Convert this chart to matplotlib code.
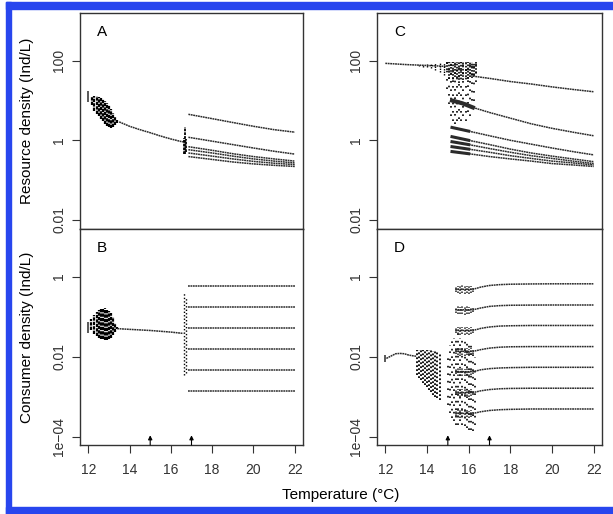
import numpy as np
import matplotlib
matplotlib.use("Agg")
import matplotlib.pyplot as plt
from matplotlib.patches import Rectangle

plt.rcParams['font.family'] = ['Liberation Sans', 'DejaVu Sans']

# ---- data (temperature in deg C, densities in Ind/L) ----
# Panel A: resource, low productivity
a_start = [12.0, 9.3, 17.6]                      # T, low, high
a_blob_t = [12.2, 12.3, 12.4, 12.5, 12.6, 12.7, 12.8, 12.9, 13.0, 13.1, 13.2, 13.3, 13.4, 13.5]
a_blob_hi = [12.5, 13.0, 12.8, 12.3, 11.8, 11.0, 10.0, 8.8, 7.5, 6.0, 4.8, 3.9, 3.3, 2.9]
a_blob_lo = [7.5, 5.5, 4.6, 4.0, 3.5, 3.0, 2.6, 2.3, 2.1, 2.0, 2.1, 2.4, 2.7, 2.9]
a_line_t = [13.5, 14.0, 14.5, 15.0, 15.5, 16.0, 16.5, 16.7]
a_line_v = [2.9, 2.25, 1.85, 1.55, 1.28, 1.08, 0.93, 0.9]
a_jump_t = [16.62, 16.68, 16.74]
a_jump_lo = [0.45, 0.46, 0.5]
a_jump_hi = [1.15, 2.1, 1.1]
a_br_t = [16.85, 18, 19, 20, 21, 22]
a_branches = [
    [4.5, 3.5, 2.8, 2.25, 1.85, 1.6],
    [1.19, 0.95, 0.78, 0.64, 0.53, 0.45],
    [0.69, 0.56, 0.46, 0.39, 0.34, 0.30],
    [0.58, 0.48, 0.40, 0.34, 0.30, 0.27],
    [0.48, 0.40, 0.34, 0.295, 0.265, 0.245],
    [0.39, 0.33, 0.285, 0.255, 0.235, 0.22],
]

# Panel B: consumer, low productivity
b_start = [12.0, 0.0385, 0.075]
b_blob_t = [12.15, 12.3, 12.4, 12.5, 12.6, 12.7, 12.8, 12.9, 13.0, 13.1, 13.2, 13.3, 13.4]
b_blob_hi = [0.085, 0.11, 0.13, 0.145, 0.155, 0.16, 0.16, 0.155, 0.14, 0.12, 0.095, 0.07, 0.055]
b_blob_lo = [0.045, 0.036, 0.032, 0.030, 0.028, 0.027, 0.026, 0.026, 0.027, 0.030, 0.035, 0.042, 0.05]
b_line_t = [13.4, 14.0, 15.0, 16.0, 16.6]
b_line_v = [0.05, 0.048, 0.045, 0.041, 0.038]
b_jump_t = [16.64, 16.72]
b_jump_lo = [0.0035, 0.004]
b_jump_hi = [0.39, 0.3]
b_br_t = [16.85, 22]
b_levels = [0.585, 0.17, 0.051, 0.0155, 0.0047, 0.0014]

# Panel C: resource, high productivity
c_line_t = [12.0, 12.5, 13.0, 13.5, 14.0, 14.5, 14.9]
c_line_v = [86, 83, 80, 78, 76, 74, 72]
c_osc_t = [13.6, 13.8, 14.0, 14.2, 14.4, 14.6, 14.8]
c_osc_hi = [78, 80, 82, 84, 86, 88, 90]
c_osc_lo = [74, 71, 68, 64, 58, 52, 45]
c_chaos_t = [14.95, 15.05, 15.15, 15.25, 15.35, 15.45, 15.55, 15.65, 15.75, 15.85, 15.95, 16.05, 16.15, 16.25, 16.35]
c_chaos_hi = [92, 95, 95, 94, 95, 95, 94, 95, 94, 95, 94, 95, 93, 90, 92]
c_chaos_lo = [20, 8, 4, 3, 2.5, 3, 3.5, 3, 4, 3, 5, 4, 6, 10, 30]
c_dense_lo = [60, 35, 45, 30, 40, 36, 28, 42, 33, 38, 30, 40, 36, 45, 50]
c_br1_t = [16.2, 17, 18, 19, 20, 21, 22]
c_br1_v = [41, 36, 30, 26, 22, 19, 16.6]
c_br2_t = [15.2, 15.7, 16.2, 17, 18, 19, 20, 21, 22]
c_br2_v = [10, 8.5, 6.7, 5.0, 3.6, 2.6, 2.0, 1.6, 1.3]
c_br_t = [15.2, 16, 17, 18, 19, 20, 21, 22]
c_branches = [
    [2.1, 1.7, 1.3, 1.0, 0.8, 0.64, 0.52, 0.43],
    [1.23, 1.0, 0.78, 0.6, 0.48, 0.4, 0.34, 0.29],
    [0.92, 0.78, 0.62, 0.5, 0.41, 0.35, 0.3, 0.26],
    [0.69, 0.6, 0.5, 0.41, 0.35, 0.3, 0.27, 0.24],
    [0.52, 0.46, 0.39, 0.34, 0.3, 0.26, 0.24, 0.22],
]

# Panel D: consumer, high productivity
d_start = [12.0, 0.0074, 0.011]
d_line_t = [12.05, 12.3, 12.5, 12.7, 12.9, 13.1, 13.3, 13.5]
d_line_v = [0.009, 0.0105, 0.0118, 0.012, 0.0118, 0.011, 0.0105, 0.0102]
d_chaos1_t = [13.5, 13.6, 13.7, 13.8, 13.9, 14.0, 14.1, 14.2, 14.3, 14.4, 14.5, 14.6]
d_chaos1_hi = [0.0145, 0.015, 0.015, 0.015, 0.015, 0.015, 0.0148, 0.0145, 0.014, 0.0135, 0.013, 0.012]
d_chaos1_lo = [0.0035, 0.003, 0.0026, 0.0022, 0.0019, 0.0017, 0.0015, 0.0013, 0.0011, 0.001, 0.0009, 0.0008]
d_chaos2_t = [15.0, 15.1, 15.2, 15.3, 15.4, 15.5, 15.6, 15.7, 15.8, 15.9, 16.0, 16.1, 16.2, 16.3]
d_chaos2_hi = [0.012, 0.02, 0.03, 0.03, 0.028, 0.05, 0.03, 0.03, 0.03, 0.028, 0.025, 0.02, 0.015, 0.01]
d_chaos2_lo = [0.0006, 0.0004, 0.0003, 0.00025, 0.0002, 0.0002, 0.00025, 0.0002, 0.00018, 0.00016, 0.00015, 0.00015, 0.00014, 0.0002]
d_br_t = [15.35, 16.2, 16.6, 17, 17.5, 18, 19, 20, 22]
d_branches = [
    [0.48, 0.48, 0.55, 0.6, 0.63, 0.645, 0.655, 0.66, 0.66],
    [0.148, 0.148, 0.165, 0.18, 0.188, 0.192, 0.194, 0.195, 0.195],
    [0.045, 0.045, 0.051, 0.055, 0.058, 0.059, 0.06, 0.06, 0.06],
    [0.0135, 0.0135, 0.015, 0.0163, 0.0172, 0.0176, 0.0178, 0.0178, 0.0178],
    [0.0042, 0.0042, 0.0047, 0.005, 0.0052, 0.0053, 0.0054, 0.0054, 0.0054],
    [0.00126, 0.00126, 0.0014, 0.0015, 0.00157, 0.0016, 0.00162, 0.00162, 0.00162],
    [0.00038, 0.00038, 0.00042, 0.00045, 0.00047, 0.00048, 0.00049, 0.00049, 0.00049],
]
d_clump_t = [15.4, 15.5, 15.6, 15.7, 15.8, 15.9, 16.0, 16.1, 16.2]
d_clump_lo = [0.85, 0.8, 0.78, 0.8, 0.76, 0.8, 0.78, 0.82, 0.88]   # relative to branch start
d_clump_hi = [1.15, 1.22, 1.2, 1.25, 1.2, 1.22, 1.18, 1.2, 1.1]

arrow_t = [15, 17]
x_ticks = [12, 14, 16, 18, 20, 22]
res_ticks = [0.01, 1, 100]
res_labels = ['0.01', '1', '100']
con_ticks = [1e-4, 0.01, 1]
con_labels = ['1e\u221204', '0.01', '1']

LINE = '#2b2b2b'


def branch(ax, t, v, lw=1.1):
    ax.plot(t, v, color=LINE, lw=lw, ls=(0, (1.2, 0.4)), solid_capstyle='butt')


def hatch(ax, t, lo, hi, dots=(0, (1, 1)), lw=1.0, color='black'):
    ax.vlines(t, lo, hi, colors=color, lw=lw, linestyles=[dots])


def start_bar(ax, s):
    ax.vlines([s[0]], [s[1]], [s[2]], colors=LINE, lw=1.1)


fig = plt.figure(figsize=(6.13, 5.14), dpi=100)
W, H = 613.0, 514.0


def axes_at(l, t, r, b):
    return fig.add_axes([l / W, 1 - b / H, (r - l) / W, (b - t) / H])


axA = axes_at(80, 13, 303, 229)
axB = axes_at(80, 229, 303, 445)
axC = axes_at(377, 13, 602, 229)
axD = axes_at(377, 229, 602, 445)

# A
start_bar(axA, a_start)
hatch(axA, a_blob_t, a_blob_lo, a_blob_hi, dots=(0, (1.5, 0.5)), lw=1.6)
branch(axA, a_line_t, a_line_v)
hatch(axA, a_jump_t, a_jump_lo, a_jump_hi, dots=(0, (1.5, 0.6)), lw=1.3)
for vals in a_branches:
    branch(axA, a_br_t, vals)

# B
start_bar(axB, b_start)
hatch(axB, b_blob_t, b_blob_lo, b_blob_hi, dots=(0, (1.5, 0.5)), lw=1.6)
branch(axB, b_line_t, b_line_v)
hatch(axB, b_jump_t, b_jump_lo, b_jump_hi, dots=(0, (1, 1.5)), lw=1.0)
for lev in b_levels:
    branch(axB, b_br_t, [lev, lev])

# C
branch(axC, c_line_t, c_line_v)
hatch(axC, c_osc_t, c_osc_lo, c_osc_hi, dots=(0, (1, 0.8)), lw=1.0)
hatch(axC, c_chaos_t, c_chaos_lo, c_chaos_hi, dots=(0, (1, 4)), lw=1.2)
hatch(axC, c_chaos_t, c_dense_lo, c_chaos_hi, dots=(0, (1, 0.9)), lw=1.2)
branch(axC, c_br1_t, c_br1_v)
branch(axC, c_br2_t, c_br2_v)
axC.plot(c_br2_t[:3], c_br2_v[:3], color=LINE, lw=3)
for vals in c_branches:
    branch(axC, c_br_t, vals)
    axC.plot(c_br_t[:2], vals[:2], color=LINE, lw=2.2)

# D
start_bar(axD, d_start)
branch(axD, d_line_t, d_line_v)
hatch(axD, d_chaos1_t, d_chaos1_lo, d_chaos1_hi, dots=(0, (1, 1.2)), lw=1.3)
hatch(axD, d_chaos2_t, d_chaos2_lo, d_chaos2_hi, dots=(0, (1, 3.5)), lw=1.2)
for vals in d_branches:
    branch(axD, d_br_t, vals)
    lo = [vals[0] * f for f in d_clump_lo]
    hi = [vals[0] * f for f in d_clump_hi]
    hatch(axD, d_clump_t, lo, hi, dots=(0, (1, 1.0)), lw=1.1, color='#222222')

for ax, letter, ticks, labels, ylim in [
        (axA, 'A', res_ticks, res_labels, (10 ** -2.23, 10 ** 3.2)),
        (axB, 'B', con_ticks, con_labels, (10 ** -4.21, 10 ** 1.19)),
        (axC, 'C', res_ticks, res_labels, (10 ** -2.23, 10 ** 3.2)),
        (axD, 'D', con_ticks, con_labels, (10 ** -4.21, 10 ** 1.19))]:
    ax.set_yscale('log')
    ax.set_ylim(*ylim)
    ax.set_xlim(11.6, 22.4)
    ax.minorticks_off()
    ax.set_yticks(ticks)
    ax.set_yticklabels(labels, rotation=90, va='center')
    ax.tick_params(axis='y', length=6, width=0.8, pad=4, labelsize=10, colors='#333333')
    for sp in ax.spines.values():
        sp.set_linewidth(1.0)
        sp.set_color('#333333')
    ax.text(0.075, 0.91, letter, transform=ax.transAxes, fontsize=11, ha='left', va='center')

for ax in (axA, axC):
    ax.set_xticks([])

for ax in (axB, axD):
    ax.set_xticks(x_ticks)
    ax.set_xticklabels([str(t) for t in x_ticks])
    ax.tick_params(axis='x', length=6, width=0.8, pad=7, labelsize=10, colors='#333333')
    for t in arrow_t:
        ax.annotate('', xy=(t, 0.045), xytext=(t, 0.0),
                    xycoords=('data', 'axes fraction'),
                    arrowprops=dict(arrowstyle='-|>', lw=0.8, color='black',
                                    mutation_scale=6, shrinkA=0, shrinkB=0))

fig.text(27 / W, 1 - 121 / H, 'Resource density (Ind/L)', rotation=90,
         ha='center', va='center', fontsize=11)
fig.text(27 / W, 1 - 337 / H, 'Consumer density (Ind/L)', rotation=90,
         ha='center', va='center', fontsize=11)
fig.text(341 / W, 1 - 495 / H, 'Temperature (\u00b0C)', ha='center', va='center', fontsize=11)

# blue frame of the original figure (no right edge visible)
blue = '#2846ee'
fig.patches.append(Rectangle((6 / W, 0), 5 / W, 1 - 2 / H, transform=fig.transFigure,
                             color=blue, zorder=10))
fig.patches.append(Rectangle((6 / W, 1 - 9 / H), 1 - 6 / W, 7 / H, transform=fig.transFigure,
                             color=blue, zorder=10))
fig.patches.append(Rectangle((6 / W, 0), 1 - 6 / W, 7 / H, transform=fig.transFigure,
                             color=blue, zorder=10))

fig.savefig('out.png', dpi=100)
